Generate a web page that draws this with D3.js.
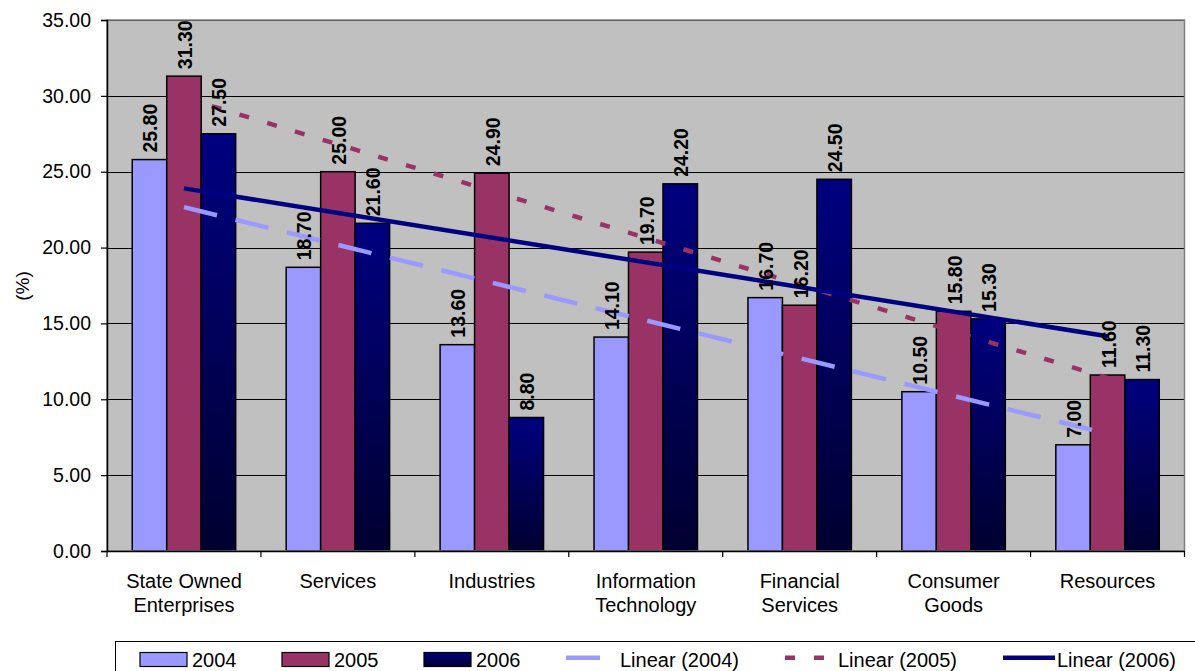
<!DOCTYPE html>
<html><head><meta charset="utf-8">
<script src="https://cdn.jsdelivr.net/npm/d3@7"></script>
<style>html,body{margin:0;padding:0;background:#fff;} svg{display:block;font-family:"Liberation Sans",Arial,sans-serif;}</style>
</head><body><svg id="c" width="1195" height="671"></svg>
<script>
// ---- data ----
const categories = ["State Owned Enterprises","Services","Industries","Information Technology","Financial Services","Consumer Goods","Resources"];
const years = ["2004","2005","2006"];
const values2004 = [25.8,18.7,13.6,14.1,16.7,10.5,7.0];
const values2005 = [31.3,25.0,24.9,19.7,16.2,15.8,11.6];
const values2006 = [27.5,21.6,8.8,24.2,24.5,15.3,11.3];
const yTicks = [0,5,10,15,20,25,30,35];
const yLabel = "(%)";
const trendNames = ["Linear (2004)","Linear (2005)","Linear (2006)"];

const seriesValues = [values2004, values2005, values2006];
const barFill = ["#9999ff","#993366","url(#g2006)"];
const lineColor = ["#9999ff","#993366","#000080"];
const lineDash = ["34 19","10 19",null];

// ---- layout ----
const L = 107, R = 1184.5, T = 20, B = 551;
const svg = d3.select("#c");
const defs = svg.append("defs");
const gr = defs.append("linearGradient").attr("id","g2006").attr("x1",0).attr("y1",0).attr("x2",0).attr("y2",1);
gr.append("stop").attr("offset","0%").attr("stop-color","#000080");
gr.append("stop").attr("offset","100%").attr("stop-color","#000030");

const x = d3.scaleBand().domain(categories).range([L,R]).padding(0);
const sub = d3.scaleBand().domain(years).range([0,x.bandwidth()]).paddingInner(0).paddingOuter(0.732);
const y = d3.scaleLinear().domain([0,35]).range([B,T]);

// plot background
svg.append("rect").attr("x",L).attr("y",T).attr("width",R-L).attr("height",B-T).attr("fill","#c0c0c0");

// gridlines
svg.append("g").selectAll("line").data(yTicks.filter(d=>d>0)).join("line")
  .attr("x1",L).attr("x2",R).attr("y1",d=>Math.round(y(d))+0.5).attr("y2",d=>Math.round(y(d))+0.5)
  .attr("stroke","#000").attr("stroke-width",1);

// bars
const barData = [];
categories.forEach((c,i)=>years.forEach((yr,j)=>barData.push({c,yr,j,v:seriesValues[j][i]})));
svg.append("g").selectAll("rect").data(barData).join("rect")
  .attr("x",d=>x(d.c)+sub(d.yr)).attr("width",sub.bandwidth())
  .attr("y",d=>y(d.v)).attr("height",d=>B-y(d.v))
  .attr("fill",d=>barFill[d.j]).attr("stroke","#000").attr("stroke-width",1.5);

// trendlines (least squares on category index 1..n)
function linreg(vals){
  const xs = vals.map((_,i)=>i+1);
  const mx = d3.mean(xs), my = d3.mean(vals);
  const b = d3.sum(xs.map((xi,i)=>(xi-mx)*(vals[i]-my)))/d3.sum(xs.map(xi=>(xi-mx)*(xi-mx)));
  return xi => my + b*(xi-mx);
}
const cx = c => x(c)+x.bandwidth()/2;
seriesValues.forEach((vals,j)=>{
  const f = linreg(vals);
  const n = vals.length;
  const p = svg.append("line")
    .attr("x1",cx(categories[0])).attr("y1",y(f(1)))
    .attr("x2",cx(categories[n-1])).attr("y2",y(f(n)))
    .attr("stroke",lineColor[j]).attr("stroke-width",4.5);
  if(lineDash[j]) p.attr("stroke-dasharray",lineDash[j]);
});

// data labels
svg.append("g").selectAll("text").data(barData).join("text")
  .attr("transform",d=>`translate(${x(d.c)+sub(d.yr)+sub.bandwidth()/2+1},${y(d.v)-7}) rotate(-90)`)
  .attr("text-anchor","start").attr("dominant-baseline","central")
  .attr("font-weight","bold").attr("font-size","19.5px").attr("fill","#000")
  .text(d=>d3.format(".2f")(d.v));

// plot border
svg.append("rect").attr("x",L).attr("y",T).attr("width",R-L).attr("height",B-T)
  .attr("fill","none").attr("stroke","#808080").attr("stroke-width",1.5);

// y axis
const ya = svg.append("g").attr("transform",`translate(${L},0)`)
  .call(d3.axisLeft(y).tickValues(yTicks).tickFormat(d3.format(".2f")).tickSize(6).tickPadding(10));
ya.select(".domain").attr("stroke","#000").attr("stroke-width",1.5);
ya.selectAll(".tick line").attr("stroke","#000").attr("stroke-width",1.2);
ya.selectAll(".tick text").attr("font-size","19.5px").attr("font-family","Liberation Sans, Arial, sans-serif").attr("fill","#000");

// x axis
const xa = svg.append("g").attr("transform",`translate(0,${B})`)
  .call(d3.axisBottom(x).tickSize(0).tickFormat(""));
xa.select(".domain").attr("stroke","#000").attr("stroke-width",1.5);
const bounds = categories.map(c=>x(c)).concat([x(categories[categories.length-1])+x.bandwidth()]);
svg.append("g").selectAll("line").data(bounds).join("line")
  .attr("x1",d=>d).attr("x2",d=>d).attr("y1",B).attr("y2",B+6).attr("stroke","#000").attr("stroke-width",1.2);

// category labels
const catG = svg.append("g").selectAll("text").data(categories).join("text")
  .attr("x",d=>cx(d)).attr("y",588).attr("text-anchor","middle").attr("font-size","20px").attr("fill","#000");
catG.each(function(d){
  const w = d.split(" ");
  const lines = w.length>1 ? [w.slice(0,-1).join(" "), w[w.length-1]] : [d];
  d3.select(this).selectAll("tspan").data(lines).join("tspan")
    .attr("x",cx(d)).attr("dy",(l,i)=>i===0?0:24).text(l=>l);
});

// y label
svg.append("text").attr("transform","translate(22,286) rotate(-90)")
  .attr("text-anchor","middle").attr("dominant-baseline","central").attr("font-size","19px").text(yLabel);

// legend
svg.append("rect").attr("x",115.5).attr("y",641.5).attr("width",1100).attr("height",60)
  .attr("fill","#fff").attr("stroke","#000").attr("stroke-width",1);
const legBarX = [140,282,424];
years.forEach((yr,j)=>{
  svg.append("rect").attr("x",legBarX[j]).attr("y",652.5).attr("width",47).attr("height",14)
    .attr("fill",barFill[j]).attr("stroke","#000").attr("stroke-width",1.2);
  svg.append("text").attr("x",legBarX[j]+52).attr("y",667).attr("font-size","20px").text(yr);
});
const legLine = [[566,601,620],[785,825,838],[1003,1055,1057]];
trendNames.forEach((nm,j)=>{
  const [a,b,t] = legLine[j];
  const p = svg.append("line").attr("x1",a).attr("x2",b).attr("y1",657.7).attr("y2",657.7)
    .attr("stroke",lineColor[j]).attr("stroke-width",4.5);
  if(lineDash[j]) p.attr("stroke-dasharray",lineDash[j]);
  svg.append("text").attr("x",t).attr("y",667).attr("font-size","20px").text(nm);
});
</script></body></html>
